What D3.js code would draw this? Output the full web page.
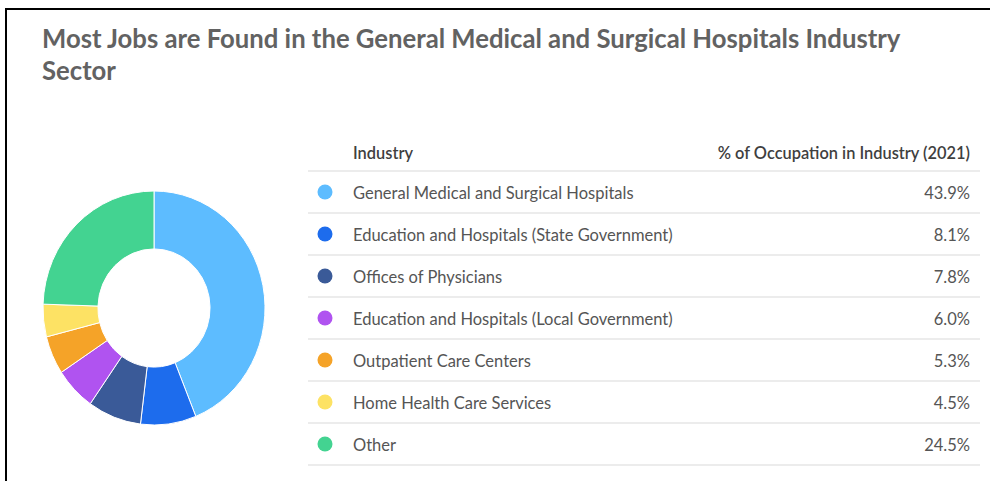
<!DOCTYPE html>
<html>
<head>
<meta charset="utf-8">
<script src="https://cdn.jsdelivr.net/npm/d3@7"></script>
<style>
  html, body { margin: 0; padding: 0; background: #fff; }
  svg text { font-family: Lato, "Open Sans", sans-serif; }
</style>
</head>
<body>
<div id="chart"></div>
<script>
"use strict";

// data
const industries = [
  "General Medical and Surgical Hospitals",
  "Education and Hospitals (State Government)",
  "Offices of Physicians",
  "Education and Hospitals (Local Government)",
  "Outpatient Care Centers",
  "Home Health Care Services",
  "Other"
];
const shares = [43.9, 8.1, 7.8, 6.0, 5.3, 4.5, 24.5];
const colors = ["#5dbcff", "#1d6ced", "#3a5a98", "#b053f0", "#f5a328", "#fde264", "#43d391"];
const titleLines = [
  "Most Jobs are Found in the General Medical and Surgical Hospitals Industry",
  "Sector"
];
const headers = ["Industry", "% of Occupation in Industry (2021)"];

function init() {
  draw();
}
window.onload = init;

function draw() {
  const width = 990, height = 481;

  const svg = d3.select("#chart")
    .append("svg")
    .attr("width", width)
    .attr("height", height);

  // frame lines (top and left)
  svg.append("line")
    .attr("x1", 5).attr("x2", width).attr("y1", 9).attr("y2", 9)
    .attr("stroke", "#000").attr("stroke-width", 2);
  svg.append("line")
    .attr("x1", 6).attr("x2", 6).attr("y1", 8).attr("y2", height)
    .attr("stroke", "#000").attr("stroke-width", 2);

  // title
  svg.append("g")
    .selectAll("text")
    .data(titleLines)
    .enter().append("text")
      .attr("x", 42)
      .attr("y", (d, i) => 48 + i * 32)
      .attr("fill", "#626262")
      .attr("font-size", 25.7)
      .attr("font-weight", 700)
      .text(d => d);

  // donut
  const data = industries.map((name, i) => ({name: name, value: shares[i]}));
  const color = d3.scaleOrdinal().domain(industries).range(colors);

  const pie = d3.pie().value(d => d.value).sort(null);
  const outerR = 111;
  const arc = d3.arc().innerRadius(outerR * 0.505).outerRadius(outerR);

  const donut = svg.append("g")
    .attr("transform", "translate(154,308) scale(1,1.054)");

  donut.selectAll("path")
    .data(pie(data))
    .enter().append("path")
      .attr("d", arc)
      .attr("fill", d => color(d.data.name))
      .attr("stroke", "#fff")
      .attr("stroke-width", 1)
      .attr("vector-effect", "non-scaling-stroke");

  // table legend
  const tLeft = 308, tRight = 980, headerLine = 171, rowH = 42;
  const y = d3.scaleBand()
    .domain(industries)
    .range([headerLine, headerLine + rowH * industries.length]);

  const table = svg.append("g");

  table.append("text")
    .attr("x", 353).attr("y", 159)
    .attr("fill", "#3f3f3f")
    .attr("font-size", 16.4)
    .attr("font-weight", 600)
    .text(headers[0]);
  table.append("text")
    .attr("x", 970).attr("y", 159)
    .attr("text-anchor", "end")
    .attr("fill", "#3f3f3f")
    .attr("font-size", 16.4)
    .attr("font-weight", 600)
    .text(headers[1]);

  table.append("line")
    .attr("x1", tLeft).attr("x2", tRight)
    .attr("y1", headerLine).attr("y2", headerLine)
    .attr("stroke", "#e6e6e6").attr("stroke-width", 1.5);

  const rows = table.selectAll("g.row")
    .data(data)
    .enter().append("g")
      .attr("class", "row")
      .attr("transform", d => `translate(0,${y(d.name)})`);

  rows.append("line")
    .attr("x1", tLeft).attr("x2", tRight)
    .attr("y1", rowH).attr("y2", rowH)
    .attr("stroke", "#e6e6e6").attr("stroke-width", 1.5);

  rows.append("circle")
    .attr("cx", 325)
    .attr("cy", rowH / 2)
    .attr("r", 7.5)
    .attr("fill", d => color(d.name));

  rows.append("text")
    .attr("x", 353)
    .attr("y", rowH / 2 + 1.5)
    .attr("dy", "0.36em")
    .attr("fill", "#555")
    .attr("font-size", 16.5)
    .text(d => d.name);

  rows.append("text")
    .attr("x", 970)
    .attr("y", rowH / 2 + 1.5)
    .attr("dy", "0.36em")
    .attr("text-anchor", "end")
    .attr("fill", "#555")
    .attr("font-size", 16.5)
    .text(d => d3.format(".1f")(d.value) + "%");
}
</script>
</body>
</html>
